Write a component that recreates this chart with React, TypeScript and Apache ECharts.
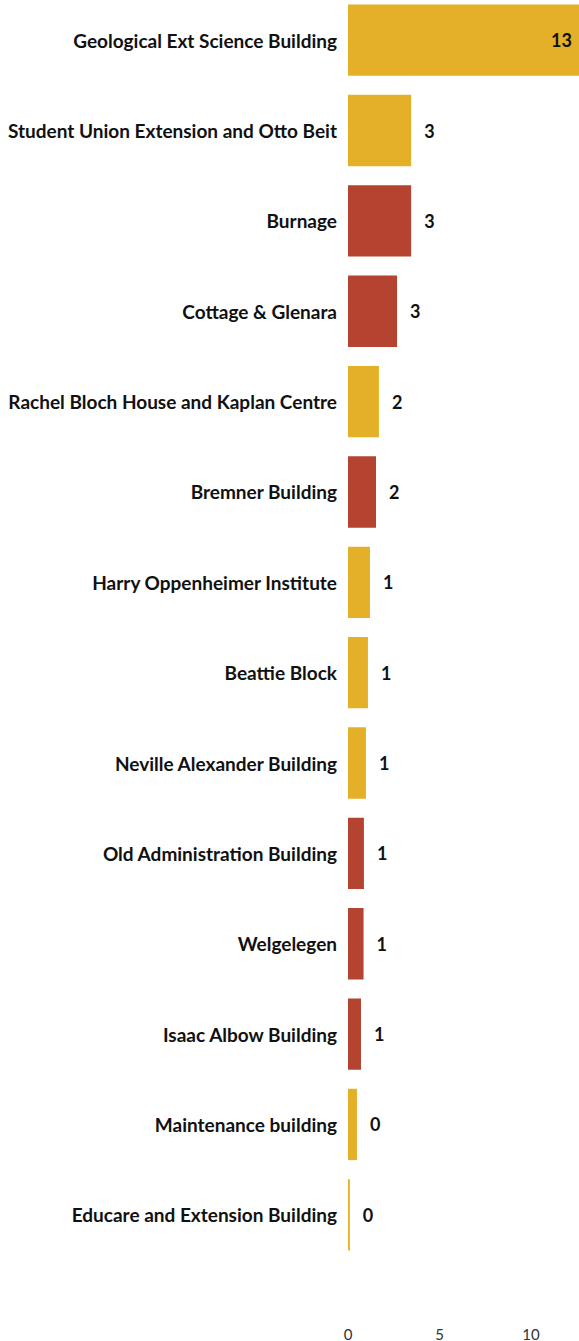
import React, { useEffect, useRef } from "react";
import * as echarts from "echarts";

const categories = [
  "Geological Ext Science Building",
  "Student Union Extension and Otto Beit",
  "Burnage",
  "Cottage & Glenara",
  "Rachel Bloch House and Kaplan Centre",
  "Bremner Building",
  "Harry Oppenheimer Institute",
  "Beattie Block",
  "Neville Alexander Building",
  "Old Administration Building",
  "Welgelegen",
  "Isaac Albow Building",
  "Maintenance building",
  "Educare and Extension Building",
];

const values = [12.8, 3.45, 3.45, 2.68, 1.69, 1.53, 1.2, 1.09, 0.98, 0.87, 0.85, 0.71, 0.49, 0.1];

const groups = ["A", "A", "B", "B", "A", "B", "A", "A", "A", "B", "B", "B", "A", "A"];

const xTicks = [0, 5, 10];

const GROUP_COLORS: Record<string, string> = { A: "#E3B028", B: "#B4442F" };

export default function App() {
  const ref = useRef<HTMLDivElement>(null);
  useEffect(() => {
    if (!ref.current) return;
    const chart = echarts.init(ref.current, null, { renderer: "svg" });
    const font = "Lato, 'Open Sans', sans-serif";
    chart.setOption({
      animation: false,
      grid: { left: 348, right: 0, top: 0, height: 1265.6, containLabel: false },
      xAxis: {
        type: "value",
        min: 0,
        max: 12.62,
        interval: 5,
        axisLine: { show: false },
        axisTick: { show: false },
        splitLine: { show: false },
        axisLabel: {
          margin: 66,
          fontFamily: font,
          fontSize: 15,
          color: "#333",
          showMaxLabel: false,
          formatter: (v: number) => (xTicks.includes(v) ? String(v) : ""),
        },
      },
      yAxis: {
        type: "category",
        inverse: true,
        data: categories,
        axisLine: { show: false },
        axisTick: { show: false },
        axisLabel: {
          margin: 11,
          fontFamily: font,
          fontWeight: "bold",
          fontSize: 19,
          color: "#111",
        },
      },
      series: [
        {
          type: "bar",
          barCategoryGap: "21%",
          data: values.map((v, i) => ({
            value: v,
            itemStyle: { color: GROUP_COLORS[groups[i]] },
            label:
              i === 0
                ? { position: "insideRight", distance: 7 }
                : { position: "right", distance: 13 },
          })),
          label: {
            show: true,
            fontFamily: font,
            fontWeight: "bold",
            fontSize: 18,
            color: "#111",
            formatter: (p: any) => String(Math.round(p.value)),
          },
        },
      ],
    });
    return () => chart.dispose();
  }, []);
  return (
    <div
      ref={ref}
      style={{ position: "absolute", left: 0, top: -5, width: 579, height: 1346 }}
    />
  );
}
